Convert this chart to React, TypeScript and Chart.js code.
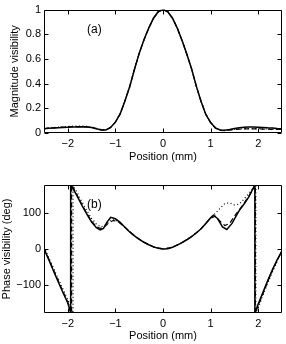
import React, { useEffect, useRef } from 'react';
import { Chart, registerables } from 'chart.js';
Chart.register(...registerables);

const FONT = "'Liberation Sans', Arial, Helvetica, sans-serif";

const posTicks = [-2, -1, 0, 1, 2];
const magTicks = [0, 0.2, 0.4, 0.6, 0.8, 1];
const phaseTicks = [-100, 0, 100];

const magX = [-2.5, -2.4, -2.3, -2.2, -2.1, -2.0, -1.9, -1.8, -1.7, -1.6, -1.5, -1.4, -1.3, -1.2, -1.1, -1.0, -0.9, -0.8, -0.7, -0.6, -0.5, -0.4, -0.3, -0.2, -0.1, 0, 0.1, 0.2, 0.3, 0.4, 0.5, 0.6, 0.7, 0.8, 0.9, 1.0, 1.1, 1.2, 1.3, 1.4, 1.5, 1.6, 1.7, 1.8, 1.9, 2.0, 2.1, 2.2, 2.3, 2.4, 2.5];
const magSolid = [0.035, 0.038, 0.04, 0.042, 0.044, 0.046, 0.048, 0.049, 0.05, 0.049, 0.045, 0.034, 0.024, 0.024, 0.045, 0.088, 0.155, 0.26, 0.375, 0.515, 0.645, 0.755, 0.85, 0.93, 0.983, 1.0, 0.983, 0.93, 0.85, 0.75, 0.64, 0.52, 0.38, 0.255, 0.15, 0.085, 0.042, 0.024, 0.022, 0.028, 0.036, 0.042, 0.046, 0.048, 0.048, 0.047, 0.045, 0.042, 0.04, 0.037, 0.035];
const magDashed = [0.036, 0.039, 0.042, 0.045, 0.047, 0.049, 0.051, 0.052, 0.052, 0.05, 0.046, 0.036, 0.026, 0.025, 0.045, 0.088, 0.155, 0.26, 0.375, 0.515, 0.645, 0.755, 0.85, 0.93, 0.983, 1.0, 0.983, 0.93, 0.85, 0.75, 0.64, 0.52, 0.38, 0.255, 0.15, 0.085, 0.04, 0.022, 0.02, 0.024, 0.028, 0.031, 0.033, 0.034, 0.034, 0.033, 0.032, 0.031, 0.03, 0.029, 0.028];
const magDotted = [0.037, 0.04, 0.044, 0.047, 0.05, 0.053, 0.055, 0.056, 0.056, 0.054, 0.048, 0.038, 0.028, 0.026, 0.046, 0.089, 0.156, 0.26, 0.375, 0.515, 0.645, 0.755, 0.85, 0.93, 0.983, 1.0, 0.983, 0.93, 0.85, 0.75, 0.64, 0.52, 0.38, 0.256, 0.152, 0.087, 0.043, 0.024, 0.022, 0.026, 0.03, 0.033, 0.035, 0.036, 0.036, 0.035, 0.034, 0.033, 0.032, 0.031, 0.03];

const phSolidX = [-2.5, -2.4, -2.3, -2.2, -2.1, -2.0, -1.94, -1.94, -1.9, -1.8, -1.7, -1.6, -1.5, -1.4, -1.32, -1.25, -1.18, -1.1, -1.0, -0.9, -0.8, -0.7, -0.6, -0.5, -0.4, -0.3, -0.2, -0.1, 0, 0.1, 0.2, 0.3, 0.4, 0.5, 0.6, 0.7, 0.8, 0.9, 1.0, 1.06, 1.15, 1.25, 1.34, 1.45, 1.6, 1.7, 1.8, 1.93, 1.93, 2.0, 2.1, 2.2, 2.3, 2.4, 2.5];
const phSolidY = [0, -30, -62, -93, -123, -152, -180, 180, 172, 148, 122, 98, 76, 60, 54, 58, 75, 89, 85, 75, 61, 48, 37, 27, 19, 12, 6, 2, 0, 1, 5, 11, 18, 26, 35, 45, 57, 72, 88, 95, 85, 62, 55, 72, 108, 126, 146, 180, -180, -155, -122, -89, -58, -30, -5];

const phDashedX = [-2.5, -2.4, -2.3, -2.2, -2.1, -2.0, -1.92, -1.92, -1.9, -1.8, -1.7, -1.6, -1.5, -1.4, -1.32, -1.25, -1.15, -1.05, -0.95, -0.8, -0.6, -0.4, -0.2, 0, 0.2, 0.4, 0.6, 0.8, 0.9, 1.0, 1.1, 1.2, 1.3, 1.4, 1.5, 1.6, 1.7, 1.8, 1.94, 1.94, 2.0, 2.1, 2.2, 2.3, 2.4, 2.5];
const phDashedY = [2, -28, -59, -90, -120, -150, -180, 180, 176, 150, 124, 100, 78, 63, 58, 60, 72, 80, 78, 61, 37, 19, 6, 0, 5, 18, 35, 57, 72, 87, 92, 78, 66, 72, 92, 110, 128, 148, 180, -180, -160, -126, -92, -60, -32, -6];

const phDottedX = [-2.5, -2.4, -2.3, -2.2, -2.1, -2.0, -1.89, -1.89, -1.85, -1.7, -1.6, -1.5, -1.4, -1.3, -1.2, -1.1, -1.0, -0.9, -0.8, -0.6, -0.4, -0.2, 0, 0.2, 0.4, 0.6, 0.8, 0.9, 1.0, 1.1, 1.2, 1.3, 1.4, 1.5, 1.6, 1.7, 1.8, 1.95, 1.95, 2.0, 2.1, 2.2, 2.3, 2.4, 2.5];
const phDottedY = [6, -24, -54, -84, -113, -142, -180, 180, 170, 132, 108, 86, 70, 62, 68, 82, 82, 74, 61, 37, 19, 6, 0, 5, 18, 35, 57, 72, 88, 100, 115, 128, 130, 124, 126, 140, 156, 180, -180, -165, -130, -96, -64, -34, -3];

const labelA = { text: '(a)', x: -1.44, y: 0.84 };
const labelB = { text: '(b)', x: -1.44, y: 125 };

const toPts = (xs: number[], ys: number[]) => xs.map((x, i) => ({ x, y: ys[i] }));
const minus = (v: number) => (v < 0 ? '\u2212' + String(-v) : String(v));

const framePlugin = {
  id: 'frameTicks',
  afterDraw(chart: any) {
    const { ctx, chartArea } = chart;
    const { left, right, top, bottom } = chartArea;
    const xs = chart.scales.x;
    const ys = chart.scales.y;
    const L = Math.round(left) + 0.5, R = Math.round(right) - 0.5;
    const T = Math.round(top) + 0.5, B = Math.round(bottom) - 0.5;
    const tl = 4;
    ctx.save();
    ctx.strokeStyle = '#000';
    ctx.lineWidth = 1;
    ctx.beginPath();
    ctx.rect(L, T, R - L, B - T);
    for (const t of xs.ticks) {
      const px = Math.round(xs.getPixelForValue(t.value)) + 0.5;
      ctx.moveTo(px, B); ctx.lineTo(px, B - tl);
      ctx.moveTo(px, T); ctx.lineTo(px, T + tl);
    }
    for (const t of ys.ticks) {
      const py = Math.round(ys.getPixelForValue(t.value)) + 0.5;
      ctx.moveTo(L, py); ctx.lineTo(L + tl, py);
      ctx.moveTo(R, py); ctx.lineTo(R - tl, py);
    }
    ctx.stroke();
    const lab = chart.options.plugins.frameTicks?.label;
    if (lab) {
      ctx.fillStyle = '#000';
      ctx.font = `12px ${FONT}`;
      ctx.textAlign = 'center';
      ctx.textBaseline = 'middle';
      ctx.fillText(lab.text, xs.getPixelForValue(lab.x), ys.getPixelForValue(lab.y));
    }
    ctx.restore();
  },
};

function makeConfig(
  datasets: any[],
  yMin: number,
  yMax: number,
  yTickVals: number[],
  yTitle: string,
  yTitlePad: number,
  padTop: number,
  xHeight: number,
  xTitlePadBottom: number,
  label: any,
  yFmt: (v: number) => string
) {
  return {
    type: 'line',
    data: { datasets },
    plugins: [framePlugin],
    options: {
      animation: false,
      responsive: false,
      devicePixelRatio: 1,
      layout: { padding: { left: 0, right: 4, top: padTop, bottom: 0 } },
      plugins: {
        legend: { display: false },
        tooltip: { enabled: false },
        frameTicks: { label },
      },
      elements: { point: { radius: 0 }, line: { tension: 0 } },
      scales: {
        x: {
          type: 'linear',
          min: -2.5,
          max: 2.5,
          grid: { display: false, drawTicks: false, tickLength: 0 },
          border: { display: false },
          afterBuildTicks: (s: any) => { s.ticks = posTicks.map((v) => ({ value: v })); },
          afterFit: (s: any) => { s.height = xHeight; },
          ticks: { padding: 4, color: '#000', maxRotation: 0, autoSkip: false, font: { family: FONT, size: 11 }, callback: (v: any) => minus(Number(v)) },
          title: { display: true, text: 'Position (mm)', color: '#000', font: { family: FONT, size: 11 }, padding: { top: 0, bottom: xTitlePadBottom } },
        },
        y: {
          type: 'linear',
          min: yMin,
          max: yMax,
          grid: { display: false, drawTicks: false, tickLength: 0 },
          border: { display: false },
          afterBuildTicks: (s: any) => { s.ticks = yTickVals.map((v) => ({ value: v })); },
          afterFit: (s: any) => { s.width = 44; },
          ticks: { padding: 3, color: '#000', autoSkip: false, font: { family: FONT, size: 11 }, callback: (v: any) => yFmt(Number(v)) },
          title: { display: true, text: yTitle, color: '#000', font: { family: FONT, size: 11 }, padding: { top: yTitlePad, bottom: 0 } },
        },
      },
    },
  } as any;
}

const lineStyle = (kind: 'solid' | 'dashed' | 'dotted') => ({
  borderColor: '#000',
  borderWidth: kind === 'solid' ? 1.5 : 1.2,
  borderDash: kind === 'solid' ? [] : kind === 'dashed' ? [5, 3] : [1, 2.5],
  fill: false,
  pointRadius: 0,
});

export default function App() {
  const topRef = useRef<HTMLCanvasElement>(null);
  const botRef = useRef<HTMLCanvasElement>(null);

  useEffect(() => {
    document.body.style.margin = '0';
    const top = new Chart(
      topRef.current!,
      makeConfig(
        [
          { data: toPts(magX, magDotted), ...lineStyle('dotted') },
          { data: toPts(magX, magDashed), ...lineStyle('dashed') },
          { data: toPts(magX, magSolid), ...lineStyle('solid') },
        ],
        0, 1, magTicks, 'Magnitude visibility', 8.5, 5, 39, 8, labelA,
        (v) => String(Math.round(v * 10) / 10)
      )
    );
    const bot = new Chart(
      botRef.current!,
      makeConfig(
        [
          { data: toPts(phDottedX, phDottedY), ...lineStyle('dotted') },
          { data: toPts(phDashedX, phDashedY), ...lineStyle('dashed') },
          { data: toPts(phSolidX, phSolidY), ...lineStyle('solid') },
        ],
        -180, 180, phaseTicks, 'Phase visibility (deg)', 0.5, 13, 31, 1.5, labelB,
        minus
      )
    );
    return () => { top.destroy(); bot.destroy(); };
  }, []);

  return (
    <div style={{ width: 286, height: 344, background: '#fff' }}>
      <canvas ref={topRef} width={286} height={172} style={{ display: 'block' }} />
      <canvas ref={botRef} width={286} height={172} style={{ display: 'block' }} />
    </div>
  );
}
